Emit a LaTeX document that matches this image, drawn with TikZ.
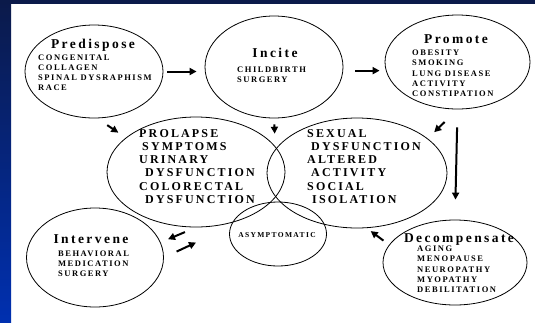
\documentclass[tikz,border=0pt]{standalone}
\usepackage{fontspec}
\newfontfamily\slidefont[LetterSpace=18]{Liberation Serif}
\usetikzlibrary{shapes.geometric,arrows.meta}
\definecolor{SlideNavy}{HTML}{0B1A4A}
\definecolor{SlideBlue}{HTML}{0030B0}

\begin{document}
\begin{tikzpicture}[x=1pt,y=-1pt,
    blob/.style={draw,ellipse,line width=0.8pt,inner sep=0pt},
    head/.style={font=\fontsize{13.5}{15}\selectfont\slidefont\bfseries,anchor=base,inner sep=0pt},
    item/.style={font=\fontsize{8.5}{10.2}\selectfont\slidefont\bfseries,align=left,anchor=base west,inner sep=0pt},
    big/.style={font=\fontsize{12}{13.3}\selectfont\slidefont\bfseries,align=left,anchor=base west,inner sep=0pt},
    push/.style={line width=2pt,-{Triangle[length=7pt,width=7pt]}}]
    \useasboundingbox (0,0) rectangle (535,322);
    % slide background
    \fill[white] (0,0) rectangle (535,322);
    \shade[top color=SlideNavy,bottom color=SlideBlue] (0,0) rectangle (11,322);
    \fill[SlideNavy] (0,0) rectangle (535,4);

    % stages
    \node[blob,minimum width=138,minimum height=93]  (pred)   at (94,71.5)  {};
    \node[blob,minimum width=138,minimum height=102] (inc)    at (274,67)   {};
    \node[blob,minimum width=145,minimum height=94]  (prom)   at (457.5,62) {};
    \node[blob,minimum width=178,minimum height=110] (sympt)  at (196,172)  {};
    \node[blob,minimum width=180,minimum height=110] (impact) at (357,173)  {};
    \node[blob,minimum width=97,minimum height=64]   (asym)   at (278,234)  {};
    \node[blob,minimum width=137,minimum height=99]  (interv) at (95,257.5) {};
    \node[blob,minimum width=144,minimum height=85]  (decomp) at (455,262.5){};

    % texts (item nodes sit on the baseline of their last line)
    \node[head] (pred-t) at (93,48) {Predispose};
    \node[item] (pred-i) at (38,90.6) {CONGENITAL\\COLLAGEN\\SPINAL DYSRAPHISM\\RACE};
    \node[head] (inc-t) at (275,57) {Incite};
    \node[item] (inc-i) at (237,82.2) {CHILDBIRTH\\SURGERY};
    \node[head] (prom-t) at (456,43) {Promote};
    \node[item] (prom-i) at (412,96.5) {OBESITY\\SMOKING\\LUNG DISEASE\\ACTIVITY\\CONSTIPATION};
    \node[big] (sympt-i) at (139,203.5) {PROLAPSE\\\hspace*{3pt}SYMPTOMS\\URINARY\\\hspace*{6pt}DYSFUNCTION\\COLORECTAL\\\hspace*{6pt}DYSFUNCTION};
    \node[big] (impact-i) at (307,203.5) {SEXUAL\\\hspace*{4pt}DYSFUNCTION\\ALTERED\\\hspace*{4pt}ACTIVITY\\SOCIAL\\\hspace*{5pt}ISOLATION};
    \node[font=\fontsize{7.5}{9}\selectfont\slidefont\bfseries,anchor=base,inner sep=0pt] (asym-t) at (277,237) {ASYMPTOMATIC};
    \node[head] (interv-t) at (91,243) {Intervene};
    \node[item] (interv-i) at (58,276.4) {BEHAVIORAL\\MEDICATION\\SURGERY};
    \node[head] (decomp-t) at (459,242) {Decompensate};
    \node[item] (decomp-i) at (417,292.5) {AGING\\MENOPAUSE\\NEUROPATHY\\MYOPATHY\\DEBILITATION};

    % arrows
    \draw[push,shorten <=4pt,shorten >=8pt] (pred.east) -- (pred.east -| inc.west);
    \draw[push,shorten <=12pt,shorten >=5pt] (inc.-3) -- (inc.-3 -| prom.west);
    \draw[push,shorten <=12pt,shorten >=9pt] (pred.-86) -- (sympt.154);
    \draw[push,shorten <=6pt,shorten >=68pt] (inc.south) -- (asym.north);
    \draw[push,shorten <=18pt,shorten >=9pt] (prom.south) -- (impact.26);
    \draw[push,shorten <=18pt,shorten >=20pt] (prom.south) -- (decomp.north);
    \draw[push,shorten <=7pt,shorten >=5pt] (decomp.165) -- (impact.-80);
    \draw[push,shorten <=12pt,shorten >=8pt] (sympt.south) -- (interv.13);
    \draw[push,shorten <=14pt,shorten >=38pt] (interv.east) -- (asym.171);
\end{tikzpicture}
\end{document}
